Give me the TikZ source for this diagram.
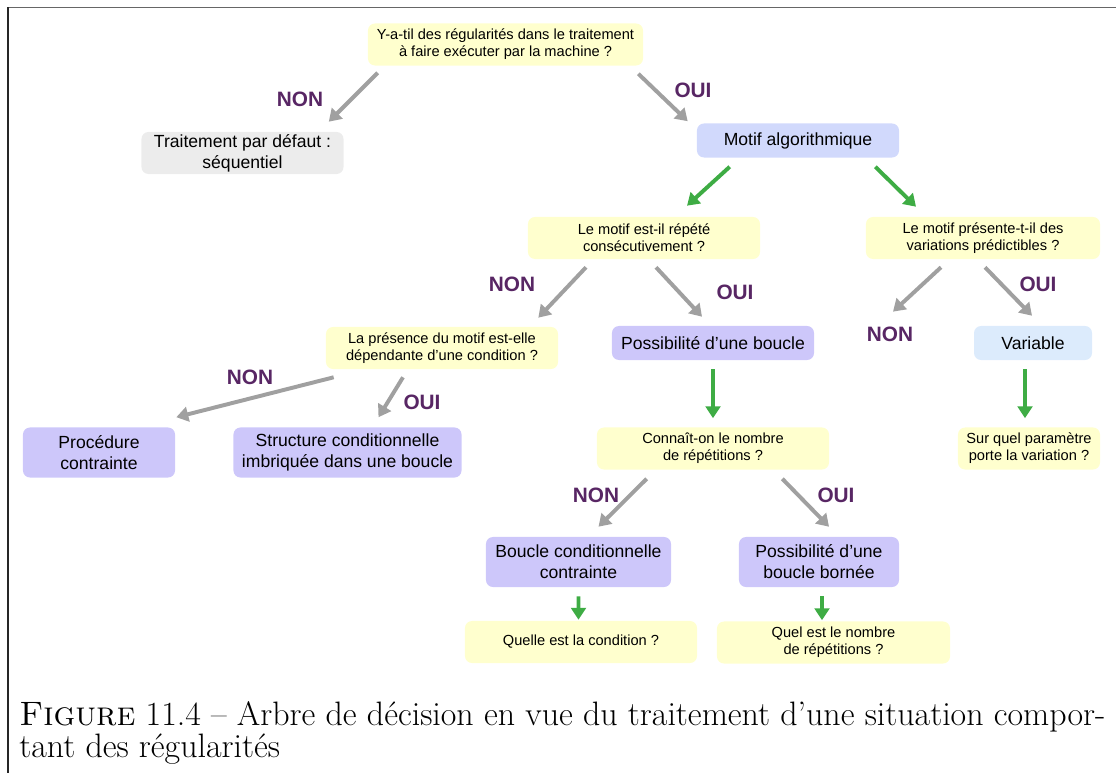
\documentclass[tikz,border=0pt]{standalone}
\usepackage{fontspec}
\newfontfamily\boxfont{Liberation Sans}
\usetikzlibrary{arrows.meta,positioning,calc}
\definecolor{qYellow}{RGB}{255,255,206}
\definecolor{motifBlue}{RGB}{209,217,252}
\definecolor{varBlue}{RGB}{220,235,252}
\definecolor{ansLilac}{RGB}{205,199,250}
\definecolor{defGrey}{RGB}{236,236,236}
\definecolor{ansPurple}{RGB}{88,38,100}
\definecolor{arrGrey}{RGB}{160,160,160}
\definecolor{arrGreen}{RGB}{62,172,68}
\tikzset{
  qbox/.style={fill=qYellow, rounded corners=5pt, inner sep=0pt, align=center,
    minimum height=1.05cm, font=\boxfont\fontsize{10.4}{12}\selectfont},
  abox/.style={rounded corners=5pt, inner sep=0pt, align=center,
    font=\boxfont\fontsize{12.5}{14.8}\selectfont},
  ansl/.style={text=ansPurple, font=\boxfont\bfseries\fontsize{14.8}{16}\selectfont},
  greyln/.style={-{Triangle[length=8.5pt,width=10.5pt]}, line width=2.8pt, arrGrey},
  greenln/.style={-{Triangle[length=8.5pt,width=10.5pt]}, line width=2.8pt, arrGreen},
  capt/.style={inner sep=0pt, font=\fontsize{24.1}{28}\selectfont},
}

\begin{document}
\begin{tikzpicture}[x=0.025cm, y=-0.025cm]
  \useasboundingbox (0,0) rectangle (1116,773);
  % frame of the figure
  \draw[line width=1.1pt, black!60] (8,7.5) -- (1116,7.5);
  \draw[line width=0.9pt, black!85] (8,7.5) -- (8,773);

  % questions and answers
  \node[qbox, minimum width=6.875cm] (q0) at (505.5,44.5)
    {Y-a-til des régularités dans le traitement\\à faire exécuter par la machine ?};
  \node[abox, fill=defGrey, minimum width=5.05cm, minimum height=1.05cm] (seq) at (242.5,153)
    {Traitement par défaut :\\séquentiel};
  \node[abox, fill=motifBlue, minimum width=5.05cm, minimum height=0.85cm] (motif) at (798,140.5)
    {Motif algorithmique};
  \node[qbox, minimum width=5.8cm] (rep) at (644,238)
    {Le motif est-il répété\\consécutivement ?};
  \node[qbox, minimum width=5.85cm] (pred) at (983,238)
    {Le motif présente-t-il des\\variations prédictibles ?};
  \node[qbox, minimum width=5.8cm] (cond) at (442,348)
    {La présence du motif est-elle\\dépendante d’une condition ?};
  \node[abox, fill=ansLilac, minimum width=5.05cm, minimum height=0.85cm] (loop) at (713,343)
    {Possibilité d’une boucle};
  \node[abox, fill=varBlue, minimum width=2.95cm, minimum height=0.85cm] (var) at (1033,343)
    {Variable};
  \node[abox, fill=ansLilac, minimum width=3.8cm, minimum height=1.25cm] (proc) at (99,452.5)
    {Procédure\\contrainte};
  \node[abox, fill=ansLilac, minimum width=5.7cm, minimum height=1.25cm] (nest) at (347.5,452.5)
    {Structure conditionnelle\\imbriquée dans une boucle};
  \node[qbox, minimum width=5.8cm] (count) at (713,448.5)
    {Connaît-on le nombre\\de répétitions ?};
  \node[qbox, minimum width=3.55cm] (param) at (1029,448.5)
    {Sur quel paramètre\\porte la variation ?};
  \node[abox, fill=ansLilac, minimum width=4.625cm, minimum height=1.25cm] (wloop) at (578.5,562)
    {Boucle conditionnelle\\contrainte};
  \node[abox, fill=ansLilac, minimum width=4cm, minimum height=1.25cm] (floop) at (819,562)
    {Possibilité d’une\\boucle bornée};
  \node[qbox, minimum width=5.8cm] (which) at (581,642)
    {Quelle est la condition ?};
  \node[qbox, minimum width=5.825cm] (howmany) at (833.5,642.5)
    {Quel est le nombre\\de répétitions ?};

  % NON / OUI labels
  \node[ansl] (n1) at (300,99) {NON};
  \node[ansl] (o1) at (693,90) {OUI};
  \node[ansl] (n2) at (512,284) {NON};
  \node[ansl] (o2) at (735,292) {OUI};
  \node[ansl] (n3) at (890,334) {NON};
  \node[ansl] (o3) at (1038,284) {OUI};
  \node[ansl] (n4) at (250,377) {NON};
  \node[ansl] (o4) at (422,402) {OUI};
  \node[ansl] (n5) at (596,495) {NON};
  \node[ansl] (o5) at (836,495) {OUI};

  % grey arrows: answers to a question
  \draw[greyln] ($(q0.south west)+(10,7)$) -- ($(seq.north east)+(-15,-10)$);
  \draw[greyln] ($(q0.south east)+(-5,8)$) -- ($(motif.north west)+(-9,-2)$);
  \draw[greyln] ($(rep.south)+(-58,8)$) -- ($(cond.north east)+(-20,-9)$);
  \draw[greyln] ($(rep.south)+(12,8)$) -- ($(loop.north)+(-11,-9)$);
  \draw[greyln] ($(pred.south)+(-42,8)$) -- ($(n3.north)+(3,-10)$);
  \draw[greyln] ($(pred.south)+(2,8)$) -- ($(var.north)+(-1,-10)$);
  \draw[greyln] ($(cond.south west)+(8,8)$) -- ($(proc.north east)+(1,-10)$);
  \draw[greyln] ($(cond.south)+(-39,8)$) -- ($(nest.north)+(31,-10)$);
  \draw[greyln] ($(count.south west)+(50,9)$) -- ($(wloop.north)+(20,-10)$);
  \draw[greyln] ($(count.south east)+(-47,9)$) -- ($(floop.north)+(10,-10)$);

  % green arrows: what follows from an answer
  \draw[greenln] ($(motif.south west)+(33,9)$) -- ($(rep.north)+(43,-11)$);
  \draw[greenln] ($(motif.south east)+(-24,9)$) -- ($(pred.north)+(-67,-10)$);
  \draw[greenln] ($(loop.south)+(0,9)$) -- ($(count.north)+(0,-9)$);
  \draw[greenln] ($(var.south)+(-8,9)$) -- ($(param.north)+(-4,-9)$);
  \draw[greenln] ($(wloop.south)+(0,9)$) -- ($(which.north)+(-2.5,-1)$);
  \draw[greenln] ($(floop.south)+(3,9)$) -- ($(howmany.north)+(-11.5,-1)$);

  % caption
  \node[capt, anchor=base west] (capa) at (19,725)
    {\textsc{Figure} 11.4 – Arbre de décision en vue du traitement d’une situation compor-};
  \node[capt, anchor=base west] (capb) at (19,757) {tant des régularités};
\end{tikzpicture}
\end{document}
